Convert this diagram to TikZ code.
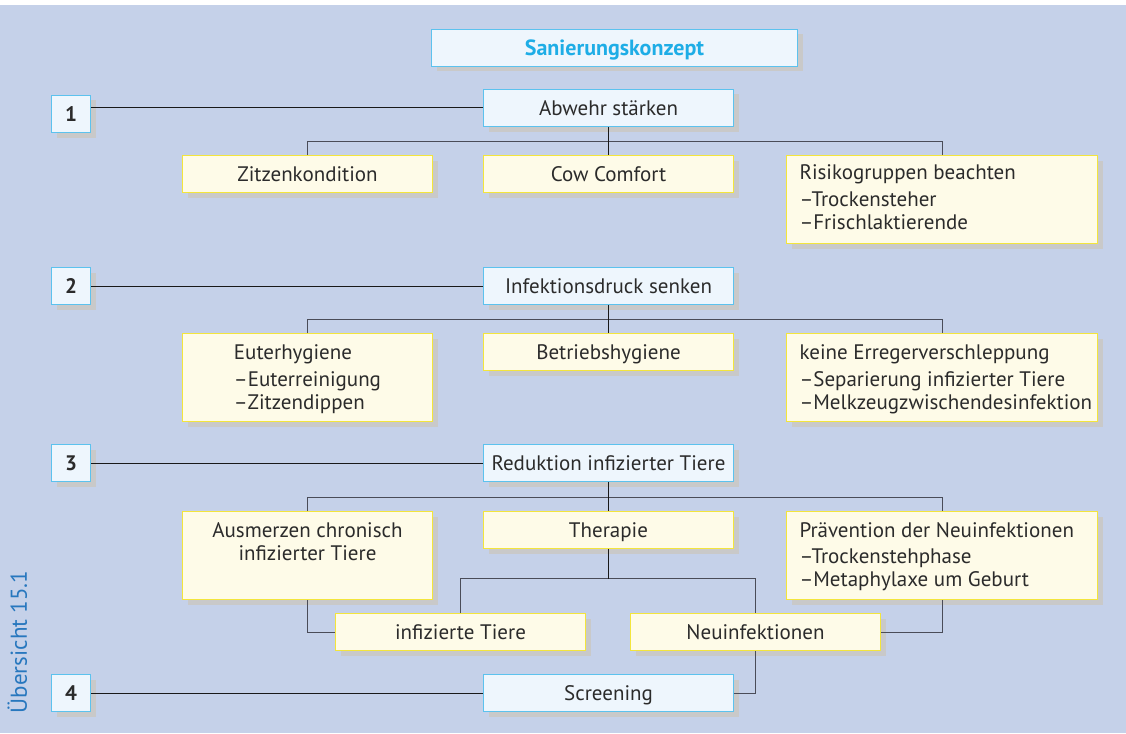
\documentclass[tikz,border=0pt]{standalone}
\usepackage{fontspec}
\setmainfont{PT Sans}
\usetikzlibrary{shadows}
\definecolor{bg}{HTML}{C5D1E9}
\definecolor{bluefill}{HTML}{EEF6FD}
\definecolor{blueline}{HTML}{5CC2EE}
\definecolor{yfill}{HTML}{FEFBE8}
\definecolor{yline}{HTML}{F3E53C}
\definecolor{titleblue}{HTML}{1EADE6}
\definecolor{sideblue}{HTML}{2777BE}
\definecolor{txt}{HTML}{2B2B2B}
\definecolor{conn}{HTML}{4A4C58}
\definecolor{shad}{HTML}{C9C9C9}
\newcommand{\bxtxt}[4]{\begin{minipage}[c][#2][t]{#1}\vspace*{#3}#4\end{minipage}}
\begin{document}
\begin{tikzpicture}[x=1pt,y=-1pt,
  box/.style={rectangle, inner sep=0pt, anchor=north west, line width=1pt, text=txt,
    drop shadow={shadow xshift=5pt, shadow yshift=-5pt, fill=shad, opacity=1},
    font=\fontsize{21}{23}\selectfont},
  bluebox/.style={box, draw=blueline, fill=bluefill},
  ybox/.style={box, draw=yline, fill=yfill},
  single/.style={text height=14.5pt, text depth=0pt},
  numbox/.style={bluebox, single, minimum width=39pt, minimum height=37pt, font=\fontsize{21}{23}\selectfont\bfseries},
  mainbox/.style={bluebox, single, minimum width=250pt, minimum height=37pt},
  leaf/.style={ybox, single, minimum width=250pt, minimum height=37pt},
  tall/.style={ybox},
  link/.style={line width=1pt, draw=black!90},
  bar/.style={line width=1pt, draw=conn}
]
\useasboundingbox (0,0) rectangle (1126,733);
\fill[white] (0,0) rectangle (1126,733);
\fill[bg] (0,5) rectangle (1126,733);

% title
\node[bluebox, single, minimum width=366pt, minimum height=37pt, text=titleblue,
      font=\fontsize{22}{24}\selectfont\bfseries] (title) at (431,29) {Sanierungskonzept};

% row 1
\node[numbox] (n1) at (51,95) {1};
\node[mainbox] (abwehr) at (483,89) {Abwehr stärken};
\node[leaf] (zitzen) at (182,155) {Zitzenkondition};
\node[leaf] (cow) at (483,155) {Cow Comfort};
\node[tall] (risiko) at (786,155) {\bxtxt{311pt}{88pt}{8pt}{\hspace*{13pt}\begin{tabular}[t]{@{}l@{}}Risikogruppen beachten\\[4pt]–Trockensteher\\–Frischlaktierende\end{tabular}}};

% row 2
\node[numbox] (n2) at (51,267) {2};
\node[mainbox] (infekt) at (483,267) {Infektionsdruck senken};
\node[tall] (euter) at (182,333) {\bxtxt{250pt}{88pt}{10pt}{\centering\begin{tabular}[t]{@{}l@{}}Euterhygiene\\[4pt]–Euterreinigung\\–Zitzendippen\end{tabular}}};
\node[leaf] (betrieb) at (483,333) {Betriebshygiene};
\node[tall] (keine) at (786,333) {\bxtxt{311pt}{88pt}{10pt}{\hspace*{13pt}\begin{tabular}[t]{@{}l@{}}keine Erregerverschleppung\\[4pt]–Separierung infizierter Tiere\\–Melkzeugzwischendesinfektion\end{tabular}}};

% row 3
\node[numbox] (n3) at (51,444) {3};
\node[mainbox] (reduktion) at (483,444) {Reduktion infizierter Tiere};
\node[tall] (ausmerzen) at (182,511) {\bxtxt{250pt}{88pt}{10pt}{\centering\begin{tabular}[t]{@{}c@{}}Ausmerzen chronisch\\infizierter Tiere\end{tabular}}};
\node[leaf] (therapie) at (483,511) {Therapie};
\node[tall] (praev) at (786,511) {\bxtxt{311pt}{88pt}{10pt}{\hspace*{13pt}\begin{tabular}[t]{@{}l@{}}Prävention der Neuinfektionen\\[3pt]–Trockenstehphase\\–Metaphylaxe um Geburt\end{tabular}}};
\node[leaf] (infiz) at (335,613) {infizierte Tiere};
\node[leaf] (neuinf) at (630,613) {Neuinfektionen};

% row 4
\node[numbox] (n4) at (51,674) {4};
\node[mainbox] (screening) at (483,674) {Screening};

% side label
\node[rotate=90, anchor=base, text=sideblue, inner sep=0pt,
      font=\fontsize{23}{27}\selectfont] (side) at (27,642) {Übersicht 15.1};

% connectors
\draw[link] (abwehr.west) -- (abwehr.west -| n1.east);
\draw[link] (infekt.west) -- (infekt.west -| n2.east);
\draw[link] (reduktion.west) -- (reduktion.west -| n3.east);
\draw[link] (screening.west) -- (screening.west -| n4.east);

\draw[bar] (zitzen.north) -- ++(0,-14) -| (risiko.north);
\draw[link] (abwehr.south) -- (cow.north);
\draw[bar] (euter.north) -- ++(0,-14) -| (keine.north);
\draw[link] (infekt.south) -- (betrieb.north);
\draw[bar] (ausmerzen.north) -- ++(0,-14) -| (praev.north);
\draw[link] (reduktion.south) -- (therapie.north);

\draw[bar] (infiz.north) -- ++(0,-35) -| (neuinf.north);
\draw[link] (therapie.south) -- ++(0,30);
\draw[bar] (ausmerzen.south) |- (infiz.west);
\draw[bar] (praev.south) |- (neuinf.east);
\draw[bar] (neuinf.south) |- (screening.east);
\end{tikzpicture}
\end{document}
